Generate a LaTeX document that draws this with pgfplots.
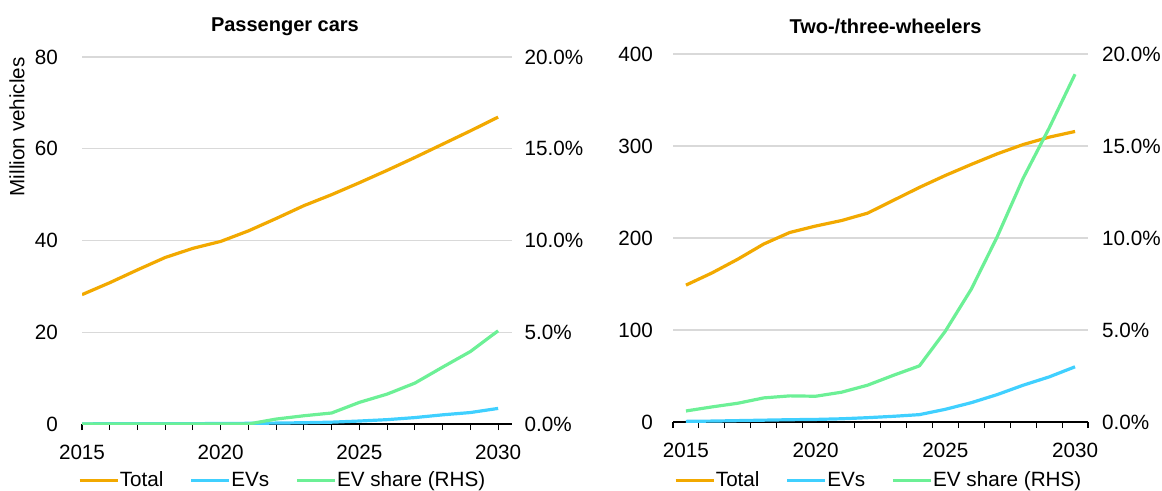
\documentclass[border=0pt]{standalone}
\usepackage{fontspec}
\setmainfont{Liberation Sans}
\usepackage{pgfplots}
\pgfplotsset{compat=1.18}

\definecolor{cTotal}{RGB}{242,169,0}
\definecolor{cEV}{RGB}{64,208,255}
\definecolor{cShare}{RGB}{108,240,150}
\definecolor{cGrid}{RGB}{217,217,217}

\pgfplotsset{
  base/.style={
    scale only axis, anchor=south west,
    font=\fontsize{15.5}{18}\selectfont,
    /pgf/number format/assume math mode=true,
    /pgf/number format/1000 sep={},
    ymin=0,
    axis line style={draw=none},
    ytick style={draw=none},
    every axis plot/.append style={line width=2.4pt, line join=round, no marks},
    title style={font=\bfseries\fontsize{15}{18}\selectfont, anchor=center},
  },
  lhs/.style={base,
    axis x line*=bottom, axis y line*=left,
    x axis line style={draw=black, line width=0.8pt},
    xtick style={draw=black, line width=0.8pt},
    tick align=outside, major tick length=4.5pt, minor tick length=4.5pt,
    ymajorgrids, grid style={cGrid, line width=1.1pt},
    legend columns=3, legend cell align=left,
    legend image code/.code={\draw[##1, line width=2.4pt] (0pt,0pt) -- (28.5pt,0pt);},
  },
  rhs/.style={base,
    axis x line=none, axis y line*=right,
    yticklabel={\pgfmathprintnumber[fixed,fixed zerofill,precision=1]{\tick}\%},
  },
}

\begin{document}
\begin{tikzpicture}
\path[use as bounding box] (0,0) rectangle (871.5pt,367.5pt);

% ---- Passenger cars ----
\begin{axis}[lhs, at={(61.5pt,49.5pt)}, width=322.5pt, height=275.25pt,
  xmin=2015, xmax=2030.5, ymax=80, ytick={0,20,...,80},
  xtick={2015,2020,2025,2030}, minor xtick={2015,...,2030},
  yticklabel style={xshift=-10pt},
  xticklabel style={yshift=-7.5pt},
  every axis y label/.style={at={(axis description cs:-0.151,0.81)}, anchor=center, rotate=90},
  ylabel={Million vehicles},
  title={Passenger cars}, title style={at={(axis description cs:0.472,1)}, yshift=17pt},
  legend style={at={(axis description cs:0.465,-0.153)}, anchor=center, draw=none, fill=none,
    /tikz/every even column/.append style={column sep=19pt}, nodes={inner xsep=0.5pt}},
]
\addplot[cTotal] coordinates {(2015,28.2)(2016,30.8)(2017,33.6)(2018,36.3)(2019,38.3)(2020,39.8)(2021,42.1)(2022,44.8)(2023,47.6)(2024,50.0)(2025,52.6)(2026,55.3)(2027,58.1)(2028,61.0)(2029,63.9)(2030,66.9)};
\addlegendentry{Total}
\addplot[cEV] coordinates {(2015,0.03)(2016,0.04)(2017,0.05)(2018,0.06)(2019,0.08)(2020,0.1)(2021,0.15)(2022,0.2)(2023,0.28)(2024,0.4)(2025,0.65)(2026,0.95)(2027,1.4)(2028,2.0)(2029,2.5)(2030,3.4)};
\addlegendentry{EVs}
\addlegendimage{cShare}
\addlegendentry{EV share (RHS)}
\end{axis}
\begin{axis}[rhs, at={(61.5pt,49.5pt)}, width=322.5pt, height=275.25pt,
  xmin=2015, xmax=2030.5, ymax=20, ytick={0,5,...,20},
  yticklabel style={xshift=6pt},
]
\addplot[cShare] coordinates {(2015,0)(2016,0)(2017,0)(2018,0)(2019,0)(2020,0)(2021,0)(2022,0.27)(2023,0.45)(2024,0.6)(2025,1.18)(2026,1.63)(2027,2.23)(2028,3.1)(2029,3.95)(2030,5.08)};
\end{axis}

% ---- Two-/three-wheelers ----
\begin{axis}[lhs, at={(504.75pt,51pt)}, width=311.25pt, height=276pt,
  xmin=2014.5, xmax=2030.5, ymax=400, ytick={0,100,...,400},
  xtick={2015,2020,2025,2030}, major tick length=0pt,
  minor xtick={2014.5,2015.5,...,2030.5},
  yticklabel style={xshift=-11.5pt},
  xticklabel style={yshift=-12pt},
  title={Two-/three-wheelers}, title style={at={(axis description cs:0.512,1)}, yshift=15pt},
  legend style={at={(axis description cs:0.494,-0.158)}, anchor=center, draw=none, fill=none,
    /tikz/every even column/.append style={column sep=19pt}, nodes={inner xsep=0.5pt}},
]
\addplot[cTotal] coordinates {(2015,148.8)(2016,162)(2017,177)(2018,193.5)(2019,206)(2020,213)(2021,219)(2022,227)(2023,241)(2024,255)(2025,268)(2026,280)(2027,291.5)(2028,301.6)(2029,309.6)(2030,315.8)};
\addlegendentry{Total}
\addplot[cEV] coordinates {(2015,0.7)(2016,1.0)(2017,1.5)(2018,2)(2019,2.5)(2020,2.8)(2021,3.5)(2022,4.7)(2023,6.2)(2024,8)(2025,13.8)(2026,21)(2027,29.8)(2028,40)(2029,49)(2030,60)};
\addlegendentry{EVs}
\addlegendimage{cShare}
\addlegendentry{EV share (RHS)}
\end{axis}
\begin{axis}[rhs, at={(504.75pt,51pt)}, width=311.25pt, height=276pt,
  xmin=2014.5, xmax=2030.5, ymax=20, ytick={0,5,...,20},
  yticklabel style={xshift=7pt},
]
\addplot[cShare] coordinates {(2015,0.6)(2016,0.82)(2017,1.02)(2018,1.31)(2019,1.42)(2020,1.40)(2021,1.62)(2022,2.0)(2023,2.54)(2024,3.05)(2025,4.94)(2026,7.22)(2027,10.07)(2028,13.25)(2029,15.97)(2030,18.9)};
\end{axis}
\end{tikzpicture}
\end{document}
